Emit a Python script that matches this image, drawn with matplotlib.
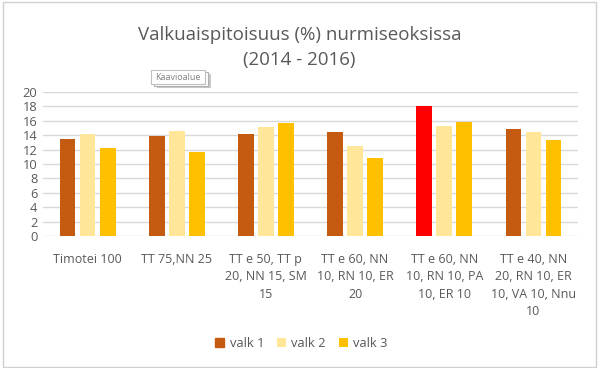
import matplotlib.pyplot as plt
import numpy as np
from matplotlib.patches import Rectangle

# Tiedot
kategoriat = ["Timotei 100", "TT 75,NN 25", "TT e 50, TT p\n20, NN 15, SM\n15",
              "TT e 60, NN\n10, RN 10, ER\n20", "TT e 60, NN\n10, RN 10, PA\n10, ER 10",
              "TT e 40, NN\n20, RN 10, ER\n10, VA 10, Nnu\n10"]
valk1 = [13.5, 13.9, 14.2, 14.5, 18.1, 14.9]
valk2 = [14.1, 14.6, 15.2, 12.5, 15.3, 14.4]
valk3 = [12.2, 11.6, 15.7, 10.8, 15.8, 13.4]
sarjat = ["valk 1", "valk 2", "valk 3"]
yticks = list(range(0, 21, 2))

varit = ["#C55A11", "#FFE699", "#FFC000"]
# viidennen ryhman valk 1 korostettu punaisella
valk1_varit = [varit[0]] * 6
valk1_varit[4] = "#FF0000"

plt.rcParams['font.family'] = ['Open Sans', 'DejaVu Sans']

fig = plt.figure(figsize=(5.99, 3.68), dpi=100)
ax = fig.add_axes([0.0718, 0.3587, 0.8932, 0.3913])

x = np.arange(len(kategoriat))
w = 0.176
d = 0.225
ax.bar(x - d, valk1, w, color=valk1_varit, label=sarjat[0], zorder=3)
ax.bar(x, valk2, w, color=varit[1], label=sarjat[1], zorder=3)
ax.bar(x + d, valk3, w, color=varit[2], label=sarjat[2], zorder=3)

ax.set_xlim(-0.5, len(kategoriat) - 0.5)
ax.set_ylim(0, 20)
ax.set_yticks(yticks)
ax.set_xticks(x)
ax.set_xticklabels(kategoriat, fontsize=9, color="#595959", linespacing=1.45, va="top")
ax.tick_params(axis='y', labelsize=9.3, colors="#595959", length=0, pad=4)
ax.tick_params(axis='x', length=0, pad=12)
ax.grid(axis='y', color="#D9D9D9", linewidth=1, zorder=0)
for s in ax.spines.values():
    s.set_visible(False)

fig.text(0.5, 0.905, "Valkuaispitoisuus (%) nurmiseoksissa", ha='center', va='center',
         fontsize=13.5, color="#595959")
fig.text(0.5, 0.837, "(2014 - 2016)", ha='center', va='center',
         fontsize=13.5, color="#595959")

# legenda
h, l = ax.get_legend_handles_labels()
leg = fig.legend(h, l, loc='center', bbox_to_anchor=(0.503, 0.066), ncol=3, frameon=False,
                 fontsize=9.3, handlelength=0.7, handleheight=0.7, columnspacing=1.0,
                 handletextpad=0.4, labelcolor="#595959")
leg.legend_handles[0].set_color(varit[0])

# "Kaavioalue" vihje (varjon kanssa)
fig.patches.append(Rectangle((157 / 599, 1 - 88 / 368), 54 / 599, 14 / 368,
                             transform=fig.transFigure, fc="#C8C8C8", ec="none"))
fig.patches.append(Rectangle((154 / 599, 1 - 86 / 368), 54 / 599, 14 / 368,
                             transform=fig.transFigure, fc="white", ec="#B0B0B0", lw=0.8))
fig.patches.append(Rectangle((151 / 599, 1 - 84 / 368), 54 / 599, 14 / 368,
                             transform=fig.transFigure, fc="white", ec="#C0C0C0", lw=0.8))
fig.text(178 / 599, 1 - 77 / 368, "Kaavioalue", ha='center', va='center', fontsize=6.5,
         color="#808080")

# kehys
fig.patches.append(Rectangle((0.005, 0.004), 0.99, 0.99, transform=fig.transFigure,
                             fill=False, ec="#D0D0D0", lw=1))

fig.savefig("out.png", dpi=100)
